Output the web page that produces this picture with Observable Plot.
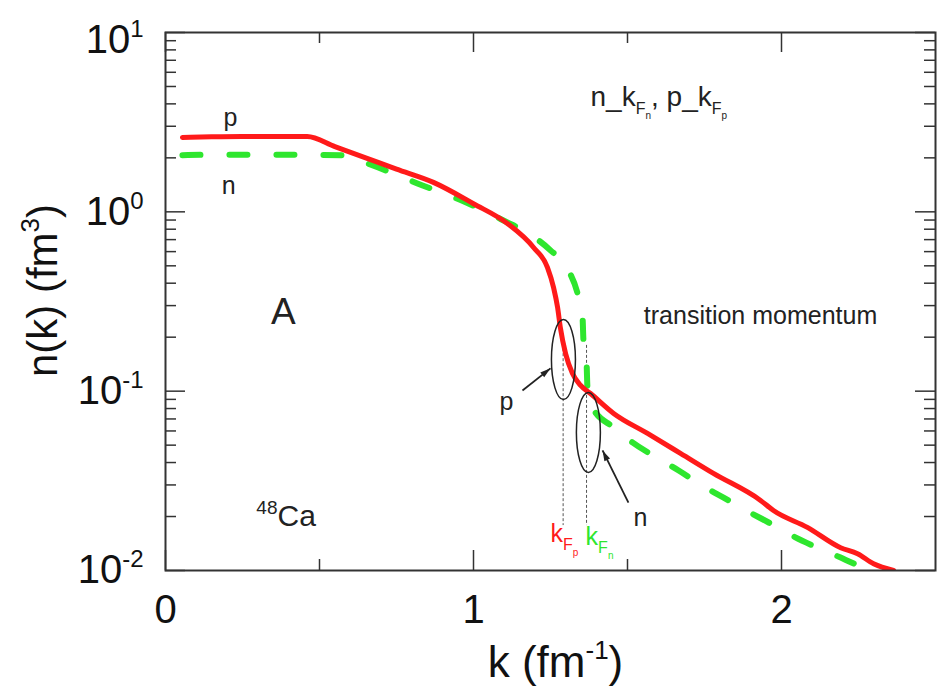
<!DOCTYPE html>
<html>
<head>
<meta charset="utf-8">
<script src="https://cdn.jsdelivr.net/npm/d3@7"></script>
<script src="https://cdn.jsdelivr.net/npm/@observablehq/plot@0.6"></script>
<style>
  body { margin: 0; background: #fff; }
  #chart svg { display: block; }
</style>
</head>
<body>
<div id="chart"></div>
<script>
// Momentum distributions n(k) of protons and neutrons in 48Ca

// proton distribution (solid red)
const kP = [0.055, 0.15, 0.25, 0.35, 0.46, 0.55, 0.65, 0.75, 0.87, 1.0, 1.11, 1.195, 1.24, 1.26, 1.273, 1.282,
            1.299, 1.321, 1.347, 1.38, 1.455, 1.565, 1.672, 1.779, 1.932, 1.974, 2.084, 2.192, 2.247, 2.299, 2.364];
const nP = [2.60, 2.62, 2.63, 2.63, 2.63, 2.31, 2.00, 1.73, 1.46, 1.11, 0.861, 0.633, 0.49, 0.378, 0.293, 0.226,
            0.162, 0.126, 0.108, 0.097, 0.0751, 0.0581, 0.0450, 0.0348, 0.0246, 0.0216, 0.0174, 0.0134, 0.0124, 0.0109, 0.0100];

// neutron distribution (dashed green)
const kN = [0.055, 0.15, 0.30, 0.45, 0.575, 0.656, 0.818, 0.98, 1.11, 1.162, 1.25, 1.305, 1.341, 1.354, 1.357,
            1.367, 1.370, 1.386, 1.455, 1.516, 1.60, 1.666, 1.747, 1.812, 1.899, 1.964, 2.045, 2.117, 2.192, 2.263, 2.275];
const nN = [2.07, 2.08, 2.08, 2.08, 2.07, 1.86, 1.44, 1.12, 0.873, 0.787, 0.61, 0.483, 0.333, 0.258, 0.192,
            0.145, 0.105, 0.081, 0.0628, 0.0518, 0.0421, 0.0361, 0.0294, 0.0255, 0.0210, 0.0183, 0.0153, 0.0134, 0.0118, 0.0103, 0.0100];

// Fermi momenta (fm^-1) and the n(k) span of their dotted markers
const kFermi = [1.291, 1.367];
const fermiTop = [0.184, 0.180];
const fermiBottom = [0.0178, 0.0178];

// axes
const xTicks = [0, 1, 2];
const xMinorTicks = [0.5, 1.5];
const yTicks = [10, 1, 0.1, 0.01];
const yExps = ["1", "0", "-1", "-2"];
const yMinorTicks = [0.01, 0.1, 1].flatMap(d => [2, 3, 4, 5, 6, 7, 8, 9].map(m => m * d));

// ellipses around the transition regions
const ringK = [1.292, 1.373];
const ringN = [0.150, 0.0589];

// arrows pointing at the ellipses (tail -> tip)
const arrowK1 = [1.159, 1.503], arrowN1 = [0.1009, 0.0239];
const arrowK2 = [1.250, 1.419], arrowN2 = [0.134, 0.0467];

// text annotations
const notes = [
  {k: 0.211, n: 3.32, text: "p", size: 25},
  {k: 0.205, n: 1.39, text: "n", size: 25},
  {k: 0.383, n: 0.275, text: "A", size: 37},
  {k: 1.932, n: 0.264, text: "transition momentum", size: 25},
  {k: 1.107, n: 0.0865, text: "p", size: 25},
  {k: 1.542, n: 0.0195, text: "n", size: 25}
];

const red = "#ff1a1a";
const green = "#2ee62e";
const ink = "#222";
const font = "'Liberation Sans', Arial, Helvetica, sans-serif";

const W = 941, H = 688, mL = 165, mR = 6, mT = 32, mB = 118;
const fw = W - mL - mR, fh = H - mT - mB;
const major = 20, minor = 11;

const xScale = Plot.scale({x: {domain: [0, 2.5], range: [mL, W - mR]}});
const yScale = Plot.scale({y: {type: "log", domain: [0.01, 10], range: [H - mB, mT]}});

const pData = kP.map((k, i) => ({k, n: nP[i]}));
const nData = kN.map((k, i) => ({k, n: nN[i]}));
const fermi = kFermi.map((k, i) => ({k, top: fermiTop[i], bottom: fermiBottom[i]}));
const rings = ringK.map((k, i) => ({k, n: ringN[i]}));
const arrows = arrowK1.map((k, i) => {
  const dx = xScale.apply(arrowK2[i]) - xScale.apply(k);
  const dy = yScale.apply(arrowN2[i]) - yScale.apply(arrowN1[i]);
  return {k1: k, n1: arrowN1[i], k2: arrowK2[i], n2: arrowN2[i], angle: Math.atan2(dx, -dy) * 180 / Math.PI};
});

// tall narrow ellipse drawn as a dot symbol
const ellipse = {
  draw(context, size) {
    const R = Math.sqrt(size / Math.PI), rx = R * 0.3, ry = R, c = 0.5523;
    context.moveTo(rx, 0);
    context.bezierCurveTo(rx, ry * c, rx * c, ry, 0, ry);
    context.bezierCurveTo(-rx * c, ry, -rx, ry * c, -rx, 0);
    context.bezierCurveTo(-rx, -ry * c, -rx * c, -ry, 0, -ry);
    context.bezierCurveTo(rx * c, -ry, rx, -ry * c, rx, 0);
    context.closePath();
  }
};

// solid arrowhead with its tip at the anchor point, pointing up before rotation
const arrowHead = {
  draw(context, size) {
    const R = Math.sqrt(size / Math.PI);
    context.moveTo(0, 0);
    context.lineTo(-R * 0.45, R * 1.5);
    context.lineTo(R * 0.45, R * 1.5);
    context.closePath();
  }
};

const labelStyle = {frameAnchor: "left", textAnchor: "end", lineAnchor: "middle", dx: -22, fontSize: 40, fill: "#111"};

const chart = Plot.plot({
  width: W, height: H,
  marginLeft: mL, marginRight: mR, marginTop: mT, marginBottom: mB,
  x: {domain: [0, 2.5], axis: null},
  y: {type: "log", domain: [0.01, 10], axis: null},
  style: {fontFamily: font, background: "#fff", color: ink},
  marks: [
    // inward ticks on all four sides
    Plot.ruleY(yTicks, {y: d => d, insetRight: fw - major, stroke: "#333", strokeWidth: 1.5}),
    Plot.ruleY(yMinorTicks, {y: d => d, insetRight: fw - minor, stroke: "#333", strokeWidth: 1.5}),
    Plot.ruleY(yTicks, {y: d => d, insetLeft: fw - major, stroke: "#333", strokeWidth: 1.5}),
    Plot.ruleY(yMinorTicks, {y: d => d, insetLeft: fw - minor, stroke: "#333", strokeWidth: 1.5}),
    Plot.ruleX(xTicks, {x: d => d, insetTop: fh - major, stroke: "#333", strokeWidth: 1.5}),
    Plot.ruleX(xMinorTicks, {x: d => d, insetTop: fh - minor, stroke: "#333", strokeWidth: 1.5}),
    Plot.ruleX(xTicks, {x: d => d, insetBottom: fh - major, stroke: "#333", strokeWidth: 1.5}),
    Plot.ruleX(xMinorTicks, {x: d => d, insetBottom: fh - minor, stroke: "#333", strokeWidth: 1.5}),

    // Fermi momentum markers
    Plot.ruleX(fermi, {x: "k", y1: "top", y2: "bottom", stroke: "#555", strokeWidth: 1, strokeDasharray: "3,2"}),

    // distributions
    Plot.line(nData, {x: "k", y: "n", stroke: green, strokeWidth: 6, strokeDasharray: "18,29",
                      strokeLinecap: "round", curve: "monotone-x", clip: true}),
    Plot.line(pData, {x: "k", y: "n", stroke: red, strokeWidth: 5, curve: "monotone-x", clip: true}),

    // ellipses and arrows
    Plot.dot(rings, {x: "k", y: "n", r: 40, symbol: ellipse, fill: "none", stroke: ink, strokeWidth: 1.5}),
    Plot.link(arrows, {x1: "k1", y1: "n1", x2: "k2", y2: "n2", stroke: ink, strokeWidth: 1.8}),
    Plot.dot(arrows, {x: "k2", y: "n2", r: 7, symbol: arrowHead, rotate: "angle", fill: ink, stroke: "none"}),

    // annotations
    Plot.text(notes, {x: "k", y: "n", text: "text", fontSize: d => d.size, fill: ink, lineAnchor: "middle"}),
    Plot.text(["48Ca"], {x: 0.295, y: 0.0200, textAnchor: "start", lineAnchor: "middle", fill: ink, fontSize: 30}),
    Plot.text(["nkFn,pkFp"], {x: 1.380, y: 4.35, textAnchor: "start", lineAnchor: "middle", fill: ink, fontSize: 28}),
    Plot.text(["kFp"], {x: 1.250, y: 0.0159, textAnchor: "start", lineAnchor: "middle", fill: red, fontSize: 25}),
    Plot.text(["kFn"], {x: 1.364, y: 0.0153, textAnchor: "start", lineAnchor: "middle", fill: green, fontSize: 25}),

    // tick labels (the top one sits just inside the frame's top edge)
    Plot.text(xTicks, {x: d => d, text: d => String(d), frameAnchor: "bottom", textAnchor: "middle",
                       lineAnchor: "middle", dy: 40, fontSize: 40, fill: "#111"}),
    Plot.text(yTicks.slice(1), {y: d => d, text: (d, i) => "10^" + yExps[i + 1], ...labelStyle}),
    Plot.text(yTicks.slice(0, 1), {y: d => d, text: () => "10^" + yExps[0], ...labelStyle, dy: 8}),

    // axis titles
    Plot.text(["k (fm-1)"], {frameAnchor: "bottom", textAnchor: "middle", lineAnchor: "middle",
                             dx: 5, dy: 92, fontSize: 44, fill: "#111"}),
    Plot.text(["n(k) (fm3)"], {frameAnchor: "left", textAnchor: "middle", lineAnchor: "middle", rotate: -90,
                               dx: -122, dy: -11, fontSize: 42, fill: "#111"}),

    Plot.frame({stroke: "#333", strokeWidth: 2})
  ]
});

// super- and subscripts: each part is [text, font size, baseline offset in px]
const rich = {
  "k (fm-1)": [["k (fm", 44, 0], ["-1", 26, -18], [")", 44, 0]],
  "n(k) (fm3)": [["n(k) (fm", 42, 0], ["3", 26, -18], [")", 42, 0]],
  "48Ca": [["48", 19, -12], ["Ca", 30, 0]],
  "nkFn,pkFp": [["n_k", 28, 0], ["F", 16, 8], ["n", 10, 13], [", p_k", 28, 0], ["F", 16, 8], ["p", 10, 13]],
  "kFp": [["k", 25, 0], ["F", 16, 8], ["p", 10, 14]],
  "kFn": [["k", 25, 0], ["F", 16, 8], ["n", 10, 14]]
};
yExps.forEach(e => { rich["10^" + e] = [["10", 40, 0], [e, 24, -16]]; });

d3.select(chart).selectAll("text").each(function () {
  const parts = rich[this.textContent];
  if (!parts) return;
  const t = d3.select(this).text(null);
  let shift = 0;
  for (const [s, size, off] of parts) {
    t.append("tspan").attr("font-size", size).attr("dy", off - shift).text(s);
    shift = off;
  }
});

document.getElementById("chart").append(chart);
</script>
</body>
</html>
